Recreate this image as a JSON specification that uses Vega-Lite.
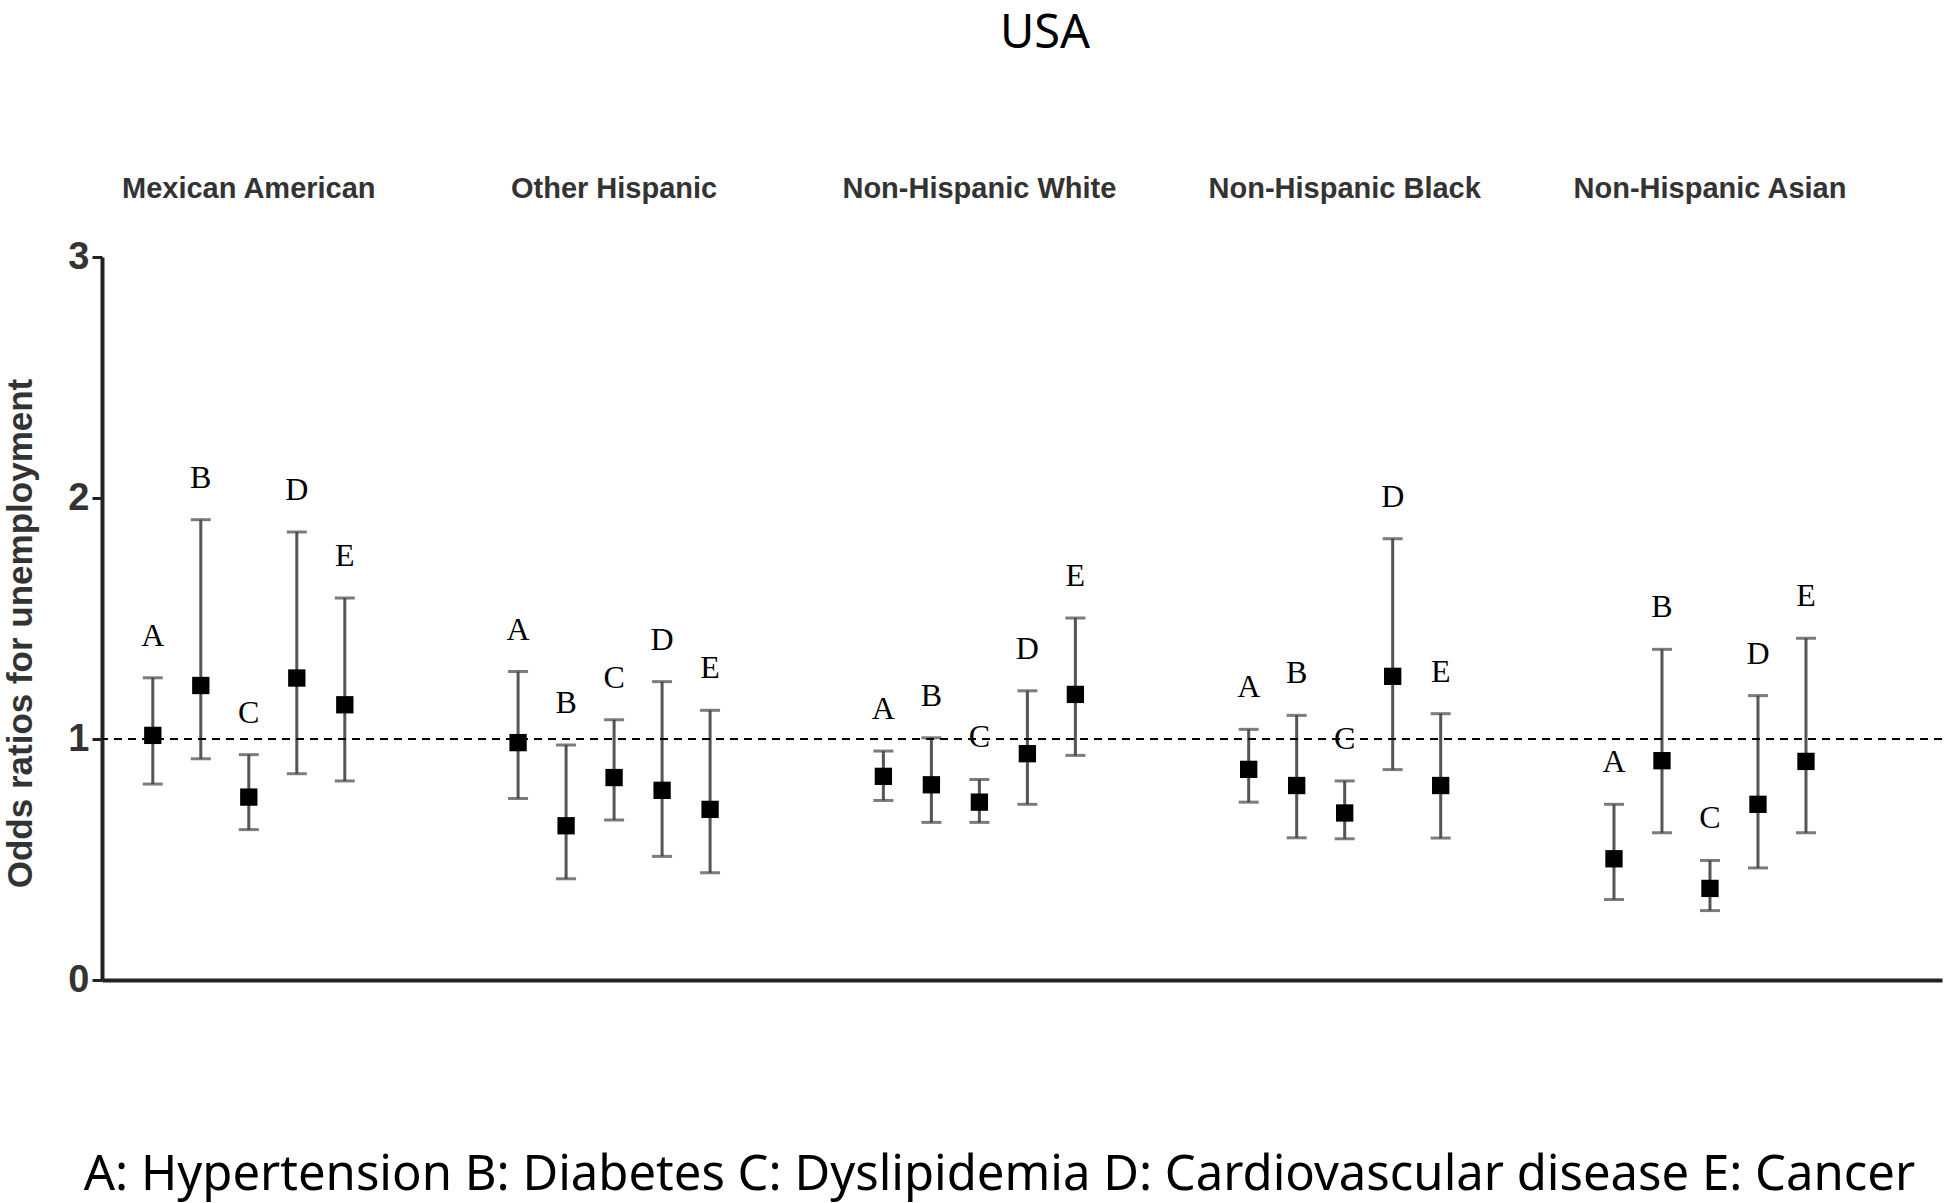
{
  "$schema": "https://vega.github.io/schema/vega-lite/v6.json",
  "width": 1840,
  "height": 723,
  "autosize": {"type": "none"},
  "padding": {"left": 102, "top": 257, "right": 4, "bottom": 223},
  "background": "white",
  "config": {
    "view": {"stroke": null},
    "axisY": {
      "grid": false, "format": "d",
      "domainColor": "#222222", "domainWidth": 4,
      "tickColor": "#222222", "tickWidth": 3, "tickSize": 10,
      "labelFont": "Liberation Sans", "labelFontWeight": "bold", "labelFontSize": 38,
      "labelColor": "#333333", "labelPadding": 3,
      "titleFont": "Liberation Sans", "titleFontWeight": "bold", "titleFontSize": 35,
      "titleColor": "#333333", "titlePadding": 29, "titleY": 376
    }
  },
  "title": {
    "text": "USA",
    "font": "Noto Sans",
    "fontSize": 47,
    "fontWeight": "normal",
    "color": "black",
    "frame": "group",
    "anchor": "middle",
    "baseline": "top",
    "dx": 23,
    "offset": 116
  },
  "data": {
    "values": [
      {"group": "Mexican American", "disease": "A", "or": 1.015, "lower": 0.813, "upper": 1.254},
      {"group": "Mexican American", "disease": "B", "or": 1.222, "lower": 0.918, "upper": 1.91},
      {"group": "Mexican American", "disease": "C", "or": 0.759, "lower": 0.624, "upper": 0.935},
      {"group": "Mexican American", "disease": "D", "or": 1.253, "lower": 0.856, "upper": 1.859},
      {"group": "Mexican American", "disease": "E", "or": 1.142, "lower": 0.826, "upper": 1.585},
      {"group": "Other Hispanic", "disease": "A", "or": 0.985, "lower": 0.753, "upper": 1.28},
      {"group": "Other Hispanic", "disease": "B", "or": 0.64, "lower": 0.42, "upper": 0.975},
      {"group": "Other Hispanic", "disease": "C", "or": 0.84, "lower": 0.664, "upper": 1.08},
      {"group": "Other Hispanic", "disease": "D", "or": 0.787, "lower": 0.513, "upper": 1.238},
      {"group": "Other Hispanic", "disease": "E", "or": 0.708, "lower": 0.445, "upper": 1.119},
      {"group": "Non-Hispanic White", "disease": "A", "or": 0.845, "lower": 0.745, "upper": 0.95},
      {"group": "Non-Hispanic White", "disease": "B", "or": 0.81, "lower": 0.654, "upper": 1.005},
      {"group": "Non-Hispanic White", "disease": "C", "or": 0.738, "lower": 0.654, "upper": 0.832},
      {"group": "Non-Hispanic White", "disease": "D", "or": 0.939, "lower": 0.729, "upper": 1.2},
      {"group": "Non-Hispanic White", "disease": "E", "or": 1.185, "lower": 0.932, "upper": 1.502},
      {"group": "Non-Hispanic Black", "disease": "A", "or": 0.874, "lower": 0.738, "upper": 1.04},
      {"group": "Non-Hispanic Black", "disease": "B", "or": 0.807, "lower": 0.59, "upper": 1.098},
      {"group": "Non-Hispanic Black", "disease": "C", "or": 0.693, "lower": 0.586, "upper": 0.826},
      {"group": "Non-Hispanic Black", "disease": "D", "or": 1.26, "lower": 0.873, "upper": 1.831},
      {"group": "Non-Hispanic Black", "disease": "E", "or": 0.807, "lower": 0.589, "upper": 1.105},
      {"group": "Non-Hispanic Asian", "disease": "A", "or": 0.503, "lower": 0.334, "upper": 0.729},
      {"group": "Non-Hispanic Asian", "disease": "B", "or": 0.91, "lower": 0.611, "upper": 1.372},
      {"group": "Non-Hispanic Asian", "disease": "C", "or": 0.38, "lower": 0.288, "upper": 0.496},
      {"group": "Non-Hispanic Asian", "disease": "D", "or": 0.729, "lower": 0.465, "upper": 1.18},
      {"group": "Non-Hispanic Asian", "disease": "E", "or": 0.907, "lower": 0.611, "upper": 1.418}
    ]
  },
  "resolve": {"axis": {"x": "independent"}},
  "layer": [
    {
      "mark": {"type": "rule", "color": "#555555", "strokeWidth": 3},
      "encoding": {
        "x": {
          "field": "group", "type": "nominal",
          "sort": ["Mexican American", "Other Hispanic", "Non-Hispanic White", "Non-Hispanic Black", "Non-Hispanic Asian"],
          "scale": {"paddingInner": 0.343, "paddingOuter": 0.19, "align": 0.193},
          "axis": {
            "orient": "top", "domain": false, "ticks": false, "title": null,
            "labelAngle": 0, "labelFont": "Liberation Sans", "labelFontWeight": "bold",
            "labelFontSize": 29, "labelColor": "#333333", "labelPadding": 54, "labelLimit": 0
          }
        },
        "xOffset": {"field": "disease", "type": "nominal", "sort": ["A", "B", "C", "D", "E"], "scale": {"paddingInner": 0, "paddingOuter": 0}},
        "y": {
          "field": "lower", "type": "quantitative",
          "scale": {"domain": [0, 3], "nice": false},
          "title": "Odds ratios for unemployment",
          "axis": {"values": [0, 1, 2, 3]}
        },
        "y2": {"field": "upper"}
      }
    },
    {
      "mark": {"type": "tick", "color": "#444444", "thickness": 3, "size": 20},
      "encoding": {
        "x": {"field": "group", "type": "nominal", "sort": ["Mexican American", "Other Hispanic", "Non-Hispanic White", "Non-Hispanic Black", "Non-Hispanic Asian"], "axis": null},
        "xOffset": {"field": "disease", "type": "nominal", "sort": ["A", "B", "C", "D", "E"]},
        "y": {"field": "upper", "type": "quantitative", "title": "Odds ratios for unemployment"}
      }
    },
    {
      "mark": {"type": "tick", "color": "#444444", "thickness": 3, "size": 20},
      "encoding": {
        "x": {"field": "group", "type": "nominal", "sort": ["Mexican American", "Other Hispanic", "Non-Hispanic White", "Non-Hispanic Black", "Non-Hispanic Asian"], "axis": null},
        "xOffset": {"field": "disease", "type": "nominal", "sort": ["A", "B", "C", "D", "E"]},
        "y": {"field": "lower", "type": "quantitative", "title": "Odds ratios for unemployment"}
      }
    },
    {
      "mark": {"type": "point", "shape": "square", "filled": true, "color": "black", "size": 300, "opacity": 1},
      "encoding": {
        "x": {
          "field": "group", "type": "nominal",
          "sort": ["Mexican American", "Other Hispanic", "Non-Hispanic White", "Non-Hispanic Black", "Non-Hispanic Asian"],
          "axis": {
            "orient": "bottom", "domain": true, "domainColor": "#222222", "domainWidth": 4,
            "ticks": false, "labels": false,
            "title": "A: Hypertension B: Diabetes C: Dyslipidemia D: Cardiovascular disease E: Cancer",
            "titleFont": "Noto Sans", "titleFontSize": 49, "titleFontWeight": "normal",
            "titleColor": "black", "titlePadding": 170, "titleX": 897, "titleLimit": 0
          }
        },
        "xOffset": {"field": "disease", "type": "nominal", "sort": ["A", "B", "C", "D", "E"]},
        "y": {"field": "or", "type": "quantitative", "title": "Odds ratios for unemployment"}
      }
    },
    {
      "mark": {"type": "text", "font": "Liberation Serif", "fontSize": 32, "color": "black", "baseline": "alphabetic", "dy": -32},
      "encoding": {
        "x": {"field": "group", "type": "nominal", "sort": ["Mexican American", "Other Hispanic", "Non-Hispanic White", "Non-Hispanic Black", "Non-Hispanic Asian"], "axis": null},
        "xOffset": {"field": "disease", "type": "nominal", "sort": ["A", "B", "C", "D", "E"]},
        "y": {"field": "upper", "type": "quantitative", "title": "Odds ratios for unemployment"},
        "text": {"field": "disease"}
      }
    },
    {
      "mark": {"type": "rule", "color": "black", "strokeWidth": 2, "strokeDash": [8, 6]},
      "encoding": {"y": {"datum": 1, "type": "quantitative", "title": "Odds ratios for unemployment"}}
    }
  ]
}
